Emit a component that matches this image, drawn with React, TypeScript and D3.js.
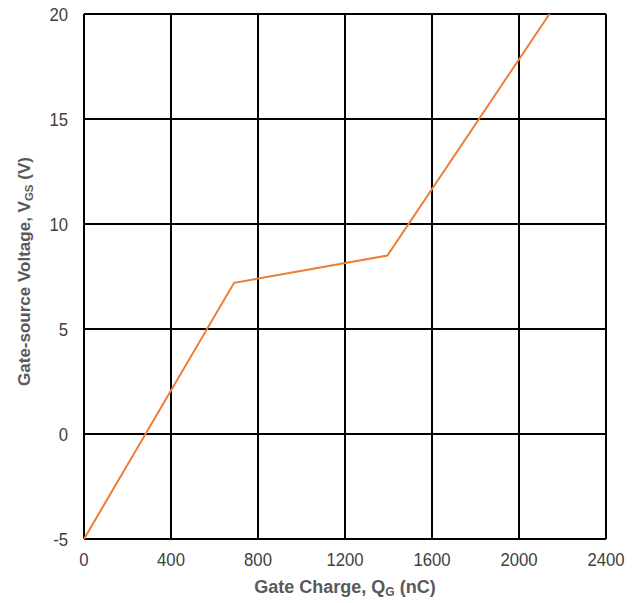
import React from "react";
import * as d3 from "d3";

// Gate charge curve (Q_G in nC, V_GS in V)
const chargeNC = [0, 690, 1395, 2140];
const voltageV = [-5, 7.2, 8.5, 20];
const xTicks = [0, 400, 800, 1200, 1600, 2000, 2400];
const yTicks = [-5, 0, 5, 10, 15, 20];

const W = 640;
const H = 603;
const left = 84;
const right = 606;
const top = 14;
const bottom = 539;

// tick labels use a slightly condensed face
const squeeze = 0.88;

export default function App() {
  const x = d3.scaleLinear().domain([0, 2400]).range([left, right]);
  const y = d3.scaleLinear().domain([-5, 20]).range([bottom, top]);
  const pts = chargeNC.map((q, i) => [q, voltageV[i]] as [number, number]);
  const line = d3
    .line<[number, number]>()
    .x((d) => x(d[0]))
    .y((d) => y(d[1]));

  return (
    <svg
      width={W}
      height={H}
      style={{ position: "absolute", left: 0, top: 0 }}
      fontFamily="'Liberation Sans', Arial, sans-serif"
    >
      <rect width={W} height={H} fill="#fff" />
      {xTicks.map((t) => (
        <line key={"gx" + t} x1={x(t)} x2={x(t)} y1={top} y2={bottom} stroke="#000" strokeWidth={2} />
      ))}
      {yTicks.map((t) => (
        <line key={"gy" + t} x1={left} x2={right} y1={y(t)} y2={y(t)} stroke="#000" strokeWidth={2} />
      ))}
      <path d={line(pts) ?? ""} fill="none" stroke="#ED7D31" strokeWidth={2} />
      {xTicks.map((t) => (
        <text
          key={"tx" + t}
          transform={`translate(${x(t)},566) scale(${squeeze},1)`}
          textAnchor="middle"
          fontSize={19}
          fill="#404040"
        >
          {t}
        </text>
      ))}
      {yTicks.map((t) => (
        <text
          key={"ty" + t}
          transform={`translate(68,${y(t)}) scale(${squeeze},1)`}
          dy="0.35em"
          textAnchor="end"
          fontSize={19}
          fill="#404040"
        >
          {t}
        </text>
      ))}
      <text x={(left + right) / 2} y={593} textAnchor="middle" fontSize={18} fontWeight="bold" fill="#595959">
        Gate Charge, Q<tspan fontSize={12} dy={3}>G</tspan>
        <tspan dy={-3}> (nC)</tspan>
      </text>
      <text
        transform={`translate(30, 271.5) rotate(-90)`}
        textAnchor="middle"
        fontSize={17}
        fontWeight="bold"
        fill="#595959"
      >
        Gate-source Voltage, V<tspan fontSize={11.5} dy={3}>GS</tspan>
        <tspan dy={-3}> (V)</tspan>
      </text>
    </svg>
  );
}
